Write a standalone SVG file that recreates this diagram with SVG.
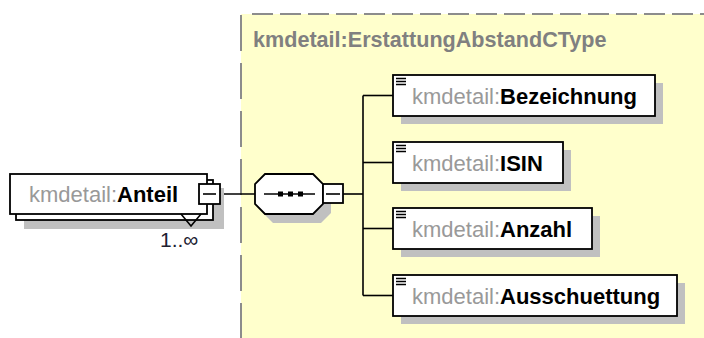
<svg xmlns="http://www.w3.org/2000/svg" width="704" height="338" viewBox="0 0 704 338">
<style>
.box{fill:#fff;stroke:#000;stroke-width:1.8}
.shadow{fill:#c0c0c0;stroke:none}
.conn{fill:none;stroke:#000;stroke-width:1.6}
.ns{font-family:"Liberation Sans",Arial,sans-serif;font-size:22px;fill:#999}
.nm{font-family:"Liberation Sans",Arial,sans-serif;font-size:22px;font-weight:bold;fill:#000}
.icon{stroke:#000;stroke-width:1.5}
.dash{stroke:#8c8c8c;stroke-width:2;fill:none}
</style>
<rect x="0" y="0" width="704" height="338" fill="#fff"/>
<g id="complexType">
<rect x="241" y="14" width="463" height="324" fill="#ffffcc"/>
<line class="dash" x1="252" y1="14" x2="704" y2="14" stroke-dasharray="21 7"/>
<line class="dash" x1="241" y1="15" x2="241" y2="338" stroke-dasharray="36 12"/>
<text x="253" y="47" font-family="Liberation Sans, Arial, sans-serif" font-size="21.6" font-weight="bold" fill="#808080">kmdetail:ErstattungAbstandCType</text>
</g>
<g id="connectors">
<line class="conn" x1="220" y1="194" x2="255" y2="194"/>
<line class="conn" x1="343" y1="194" x2="363" y2="194"/>
<line class="conn" x1="363" y1="95.5" x2="363" y2="295.5"/>
<line class="conn" x1="363" y1="95.5" x2="393" y2="95.5"/>
<line class="conn" x1="363" y1="162.5" x2="393" y2="162.5"/>
<line class="conn" x1="363" y1="228.5" x2="393" y2="228.5"/>
<line class="conn" x1="363" y1="295.5" x2="393" y2="295.5"/>
</g>
<g id="Anteil">
<rect class="shadow" x="24" y="188" width="200" height="41"/>
<rect class="box" x="16" y="180" width="197" height="40"/>
<rect class="box" x="10" y="174" width="197" height="40"/>
<polyline class="conn" points="181,214 191,226 201,214"/>
<text x="29" y="202"><tspan class="ns">kmdetail:</tspan><tspan class="nm">Anteil</tspan></text>
<rect class="box" x="199" y="184" width="21" height="20"/>
<line class="conn" x1="203" y1="194" x2="216" y2="194"/>
<text x="160" y="247" font-family="Liberation Sans, Arial, sans-serif" font-size="21" fill="#202030">1..∞</text>
</g>
<g id="sequence">
<polygon class="shadow" points="273,183 321,183 331,193 331,213 321,223 273,223 263,213 263,193"/>
<polygon class="box" points="265,174 313,174 323,184 323,204 313,214 265,214 255,204 255,184"/>
<line class="conn" x1="264" y1="194" x2="315" y2="194"/>
<rect x="278" y="191.5" width="5" height="5" fill="#000"/>
<rect x="288" y="191.5" width="5" height="5" fill="#000"/>
<rect x="298" y="191.5" width="5" height="5" fill="#000"/>
<rect class="box" x="323" y="184" width="20" height="19"/>
<line class="conn" x1="326" y1="194" x2="340" y2="194"/>
</g>
<g id="Bezeichnung">
<rect class="shadow" x="401" y="83" width="262" height="41"/>
<rect class="box" x="393" y="75" width="262" height="41"/>
<path class="icon" d="M396 78.5h10M396 81.5h10M396 84.5h10"/>
<text x="412" y="104"><tspan class="ns">kmdetail:</tspan><tspan class="nm">Bezeichnung</tspan></text>
</g>
<g id="ISIN">
<rect class="shadow" x="401" y="150" width="170" height="41"/>
<rect class="box" x="393" y="142" width="170" height="41"/>
<path class="icon" d="M396 145.5h10M396 148.5h10M396 151.5h10"/>
<text x="412" y="171"><tspan class="ns">kmdetail:</tspan><tspan class="nm">ISIN</tspan></text>
</g>
<g id="Anzahl">
<rect class="shadow" x="401" y="216" width="199" height="41"/>
<rect class="box" x="393" y="208" width="199" height="41"/>
<path class="icon" d="M396 211.5h10M396 214.5h10M396 217.5h10"/>
<text x="412" y="237"><tspan class="ns">kmdetail:</tspan><tspan class="nm">Anzahl</tspan></text>
</g>
<g id="Ausschuettung">
<rect class="shadow" x="401" y="283" width="284" height="41"/>
<rect class="box" x="393" y="275" width="284" height="41"/>
<path class="icon" d="M396 278.5h10M396 281.5h10M396 284.5h10"/>
<text x="412" y="304"><tspan class="ns">kmdetail:</tspan><tspan class="nm">Ausschuettung</tspan></text>
</g>
</svg>
